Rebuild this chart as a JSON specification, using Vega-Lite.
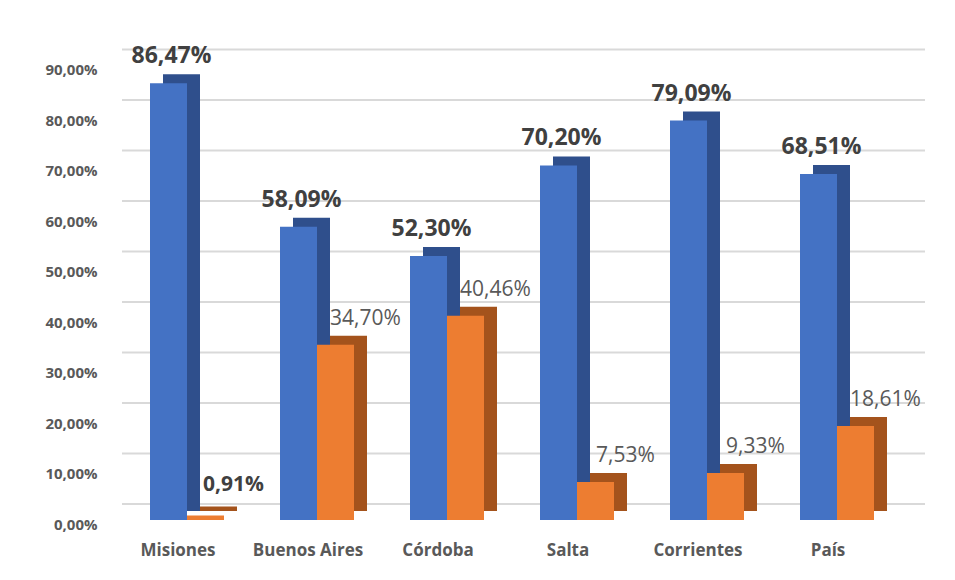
{
  "$schema": "https://vega.github.io/schema/vega-lite/v6.json",
  "width": 780,
  "height": 505,
  "autosize": {"type": "none"},
  "padding": {"left": 122, "top": 15, "right": 53, "bottom": 60},
  "background": "white",
  "config": {
    "locale": {"number": {"decimal": ",", "thousands": ".", "grouping": [3], "currency": ["$", ""]}},
    "view": {"stroke": null},
    "font": "Open Sans"
  },
  "datasets": {
    "bars": [
      {"provincia": "Misiones", "serie": "Serie 1", "valor": 0.8647},
      {"provincia": "Misiones", "serie": "Serie 2", "valor": 0.0091},
      {"provincia": "Buenos Aires", "serie": "Serie 1", "valor": 0.5809},
      {"provincia": "Buenos Aires", "serie": "Serie 2", "valor": 0.347},
      {"provincia": "Córdoba", "serie": "Serie 1", "valor": 0.523},
      {"provincia": "Córdoba", "serie": "Serie 2", "valor": 0.4046},
      {"provincia": "Salta", "serie": "Serie 1", "valor": 0.702},
      {"provincia": "Salta", "serie": "Serie 2", "valor": 0.0753},
      {"provincia": "Corrientes", "serie": "Serie 1", "valor": 0.7909},
      {"provincia": "Corrientes", "serie": "Serie 2", "valor": 0.0933},
      {"provincia": "País", "serie": "Serie 1", "valor": 0.6851},
      {"provincia": "País", "serie": "Serie 2", "valor": 0.1861}
    ],
    "grid": [
      {"v": 0}, {"v": 0.1}, {"v": 0.2}, {"v": 0.3}, {"v": 0.4},
      {"v": 0.5}, {"v": 0.6}, {"v": 0.7}, {"v": 0.8}, {"v": 0.9}
    ]
  },
  "data": {"name": "bars"},
  "layer": [
    {
      "data": {"name": "grid"},
      "mark": {"type": "rule", "color": "#d9d9d9", "strokeWidth": 2, "xOffset": 23, "x2Offset": 23, "yOffset": -16},
      "encoding": {
        "y": {
          "field": "v", "type": "quantitative",
          "scale": {"domain": [0, 1], "nice": false},
          "axis": {
            "values": [0, 0.1, 0.2, 0.3, 0.4, 0.5, 0.6, 0.7, 0.8, 0.9],
            "format": ".2%", "title": null, "grid": false, "domain": false, "ticks": false,
            "labelPadding": 25, "labelOffset": 4, "labelFontSize": 15, "labelFontWeight": "bold",
            "labelColor": "#595959", "labelFont": "Open Sans"
          }
        }
      }
    },
    {
      "transform": [{"filter": "datum.serie === 'Serie 1'"}],
      "mark": {"type": "bar", "width": 37, "color": "#2F4F8C", "xOffset": -5.5, "yOffset": -9, "y2Offset": -9},
      "encoding": {
        "x": {
          "field": "provincia", "type": "nominal", "sort": null,
          "scale": {"paddingInner": 0.43, "paddingOuter": 0.215},
          "axis": {
            "title": null, "domain": false, "ticks": false, "labelAngle": 0,
            "labelPadding": 22, "labelOffset": -9, "labelFontSize": 17, "labelFontWeight": "bold",
            "labelColor": "#595959", "labelFont": "Open Sans"
          }
        },
        "y": {"field": "valor", "type": "quantitative"}
      }
    },
    {
      "transform": [{"filter": "datum.serie === 'Serie 2'"}],
      "mark": {"type": "bar", "width": 37, "color": "#A4531C", "xOffset": 31.5, "yOffset": -9, "y2Offset": -9},
      "encoding": {
        "x": {"field": "provincia", "type": "nominal", "sort": null},
        "y": {"field": "valor", "type": "quantitative"}
      }
    },
    {
      "transform": [{"filter": "datum.serie === 'Serie 1'"}],
      "mark": {"type": "bar", "width": 37, "color": "#4472C4", "xOffset": -18.5},
      "encoding": {
        "x": {"field": "provincia", "type": "nominal", "sort": null},
        "y": {"field": "valor", "type": "quantitative"}
      }
    },
    {
      "transform": [{"filter": "datum.serie === 'Serie 2'"}],
      "mark": {"type": "bar", "width": 37, "color": "#ED7D31", "xOffset": 18.5},
      "encoding": {
        "x": {"field": "provincia", "type": "nominal", "sort": null},
        "y": {"field": "valor", "type": "quantitative"}
      }
    },
    {
      "transform": [{"filter": "datum.serie === 'Serie 1'"}],
      "mark": {"type": "text", "fontSize": 23, "fontWeight": "bold", "color": "#404040", "dx": -15.5, "dy": -27, "baseline": "middle", "align": "center"},
      "encoding": {
        "x": {"field": "provincia", "type": "nominal", "sort": null},
        "y": {"field": "valor", "type": "quantitative"},
        "text": {"field": "valor", "type": "quantitative", "format": ".2%"}
      }
    },
    {
      "transform": [{"filter": "datum.serie === 'Serie 2' && datum.valor >= 0.01"}],
      "mark": {"type": "text", "fontSize": 21, "fontWeight": "normal", "color": "#595959", "dx": 48.5, "dy": -26, "baseline": "middle", "align": "center"},
      "encoding": {
        "x": {"field": "provincia", "type": "nominal", "sort": null},
        "y": {"field": "valor", "type": "quantitative"},
        "text": {"field": "valor", "type": "quantitative", "format": ".2%"}
      }
    },
    {
      "transform": [{"filter": "datum.serie === 'Serie 2' && datum.valor < 0.01"}],
      "mark": {"type": "text", "fontSize": 21, "fontWeight": "bold", "color": "#404040", "dx": 46.5, "dy": -30, "baseline": "middle", "align": "center"},
      "encoding": {
        "x": {"field": "provincia", "type": "nominal", "sort": null},
        "y": {"field": "valor", "type": "quantitative"},
        "text": {"field": "valor", "type": "quantitative", "format": ".2%"}
      }
    }
  ]
}
